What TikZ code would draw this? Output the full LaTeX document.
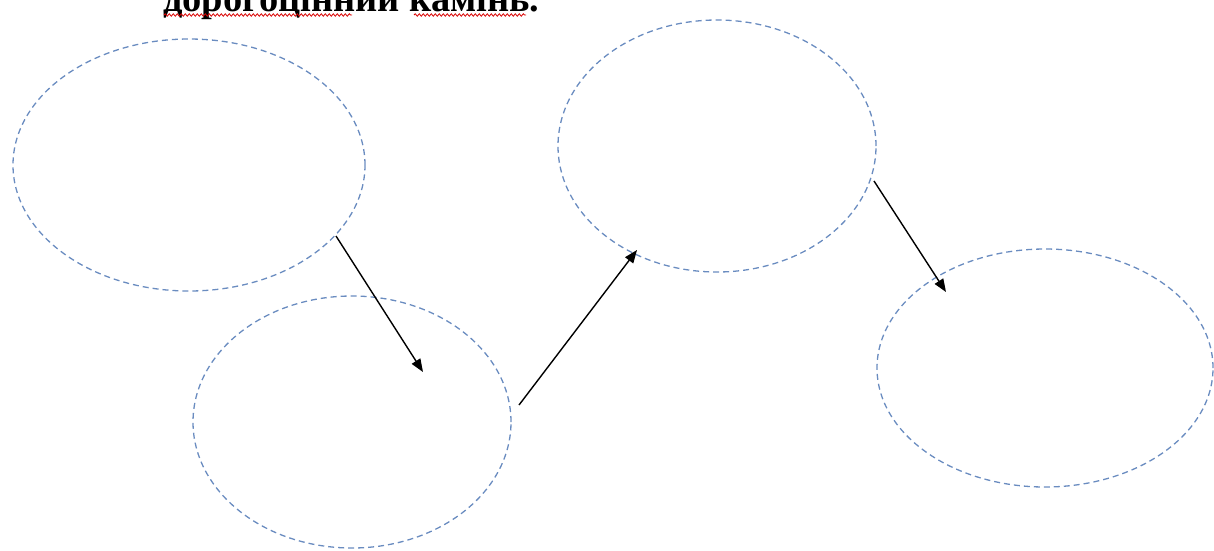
\documentclass[tikz,border=0pt]{standalone}
\usepackage{fontspec}
\setmainfont{Liberation Serif}
\usetikzlibrary{arrows.meta,decorations.pathmorphing,shapes.geometric}
\definecolor{dashblue}{HTML}{6A8CC0}
\tikzset{
  bubble/.style={draw=dashblue, dash pattern=on 6pt off 4pt, line width=1.3pt},
  link/.style={draw=black, line width=1.4pt, -{Triangle[length=13pt,width=10pt]}},
  spell/.style={draw=red!85!black, line width=0.8pt, decorate, decoration={snake, amplitude=1.2pt, segment length=4pt}}
}
\begin{document}
\begin{tikzpicture}[x=1pt,y=-1pt]
\useasboundingbox (0,0) rectangle (1214,550);
\clip (0,0) rectangle (1214,550);
\node[anchor=base west, inner sep=0pt, font=\bfseries\fontsize{38.5}{42}\selectfont] (title) at (163,11) {дорогоцінний камінь.};
\coordinate (s1a) at (164,15); \coordinate (s1b) at (352,15);
\coordinate (s2a) at (414,15); \coordinate (s2b) at (526,15);
\draw[spell] (s1a) -- (s1b);
\draw[spell] (s2a) -- (s2b);
\node[bubble, ellipse, minimum width=352pt, minimum height=252pt, inner sep=0pt] (e1) at (189,165) {};
\node[bubble, ellipse, minimum width=318pt, minimum height=252pt, inner sep=0pt] (e2) at (352,422) {};
\node[bubble, ellipse, minimum width=318pt, minimum height=252pt, inner sep=0pt] (e3) at (717,146) {};
\node[bubble, ellipse, minimum width=336pt, minimum height=238pt, inner sep=0pt] (e4) at (1045,368) {};
\coordinate (a1s) at (336,236); \coordinate (a1e) at (423,372);
\coordinate (a2s) at (519,405); \coordinate (a2e) at (637,250);
\coordinate (a3s) at (874,181); \coordinate (a3e) at (946,292);
\draw[link] (a1s) -- (a1e);
\draw[link] (a2s) -- (a2e);
\draw[link] (a3s) -- (a3e);
\end{tikzpicture}
\end{document}
